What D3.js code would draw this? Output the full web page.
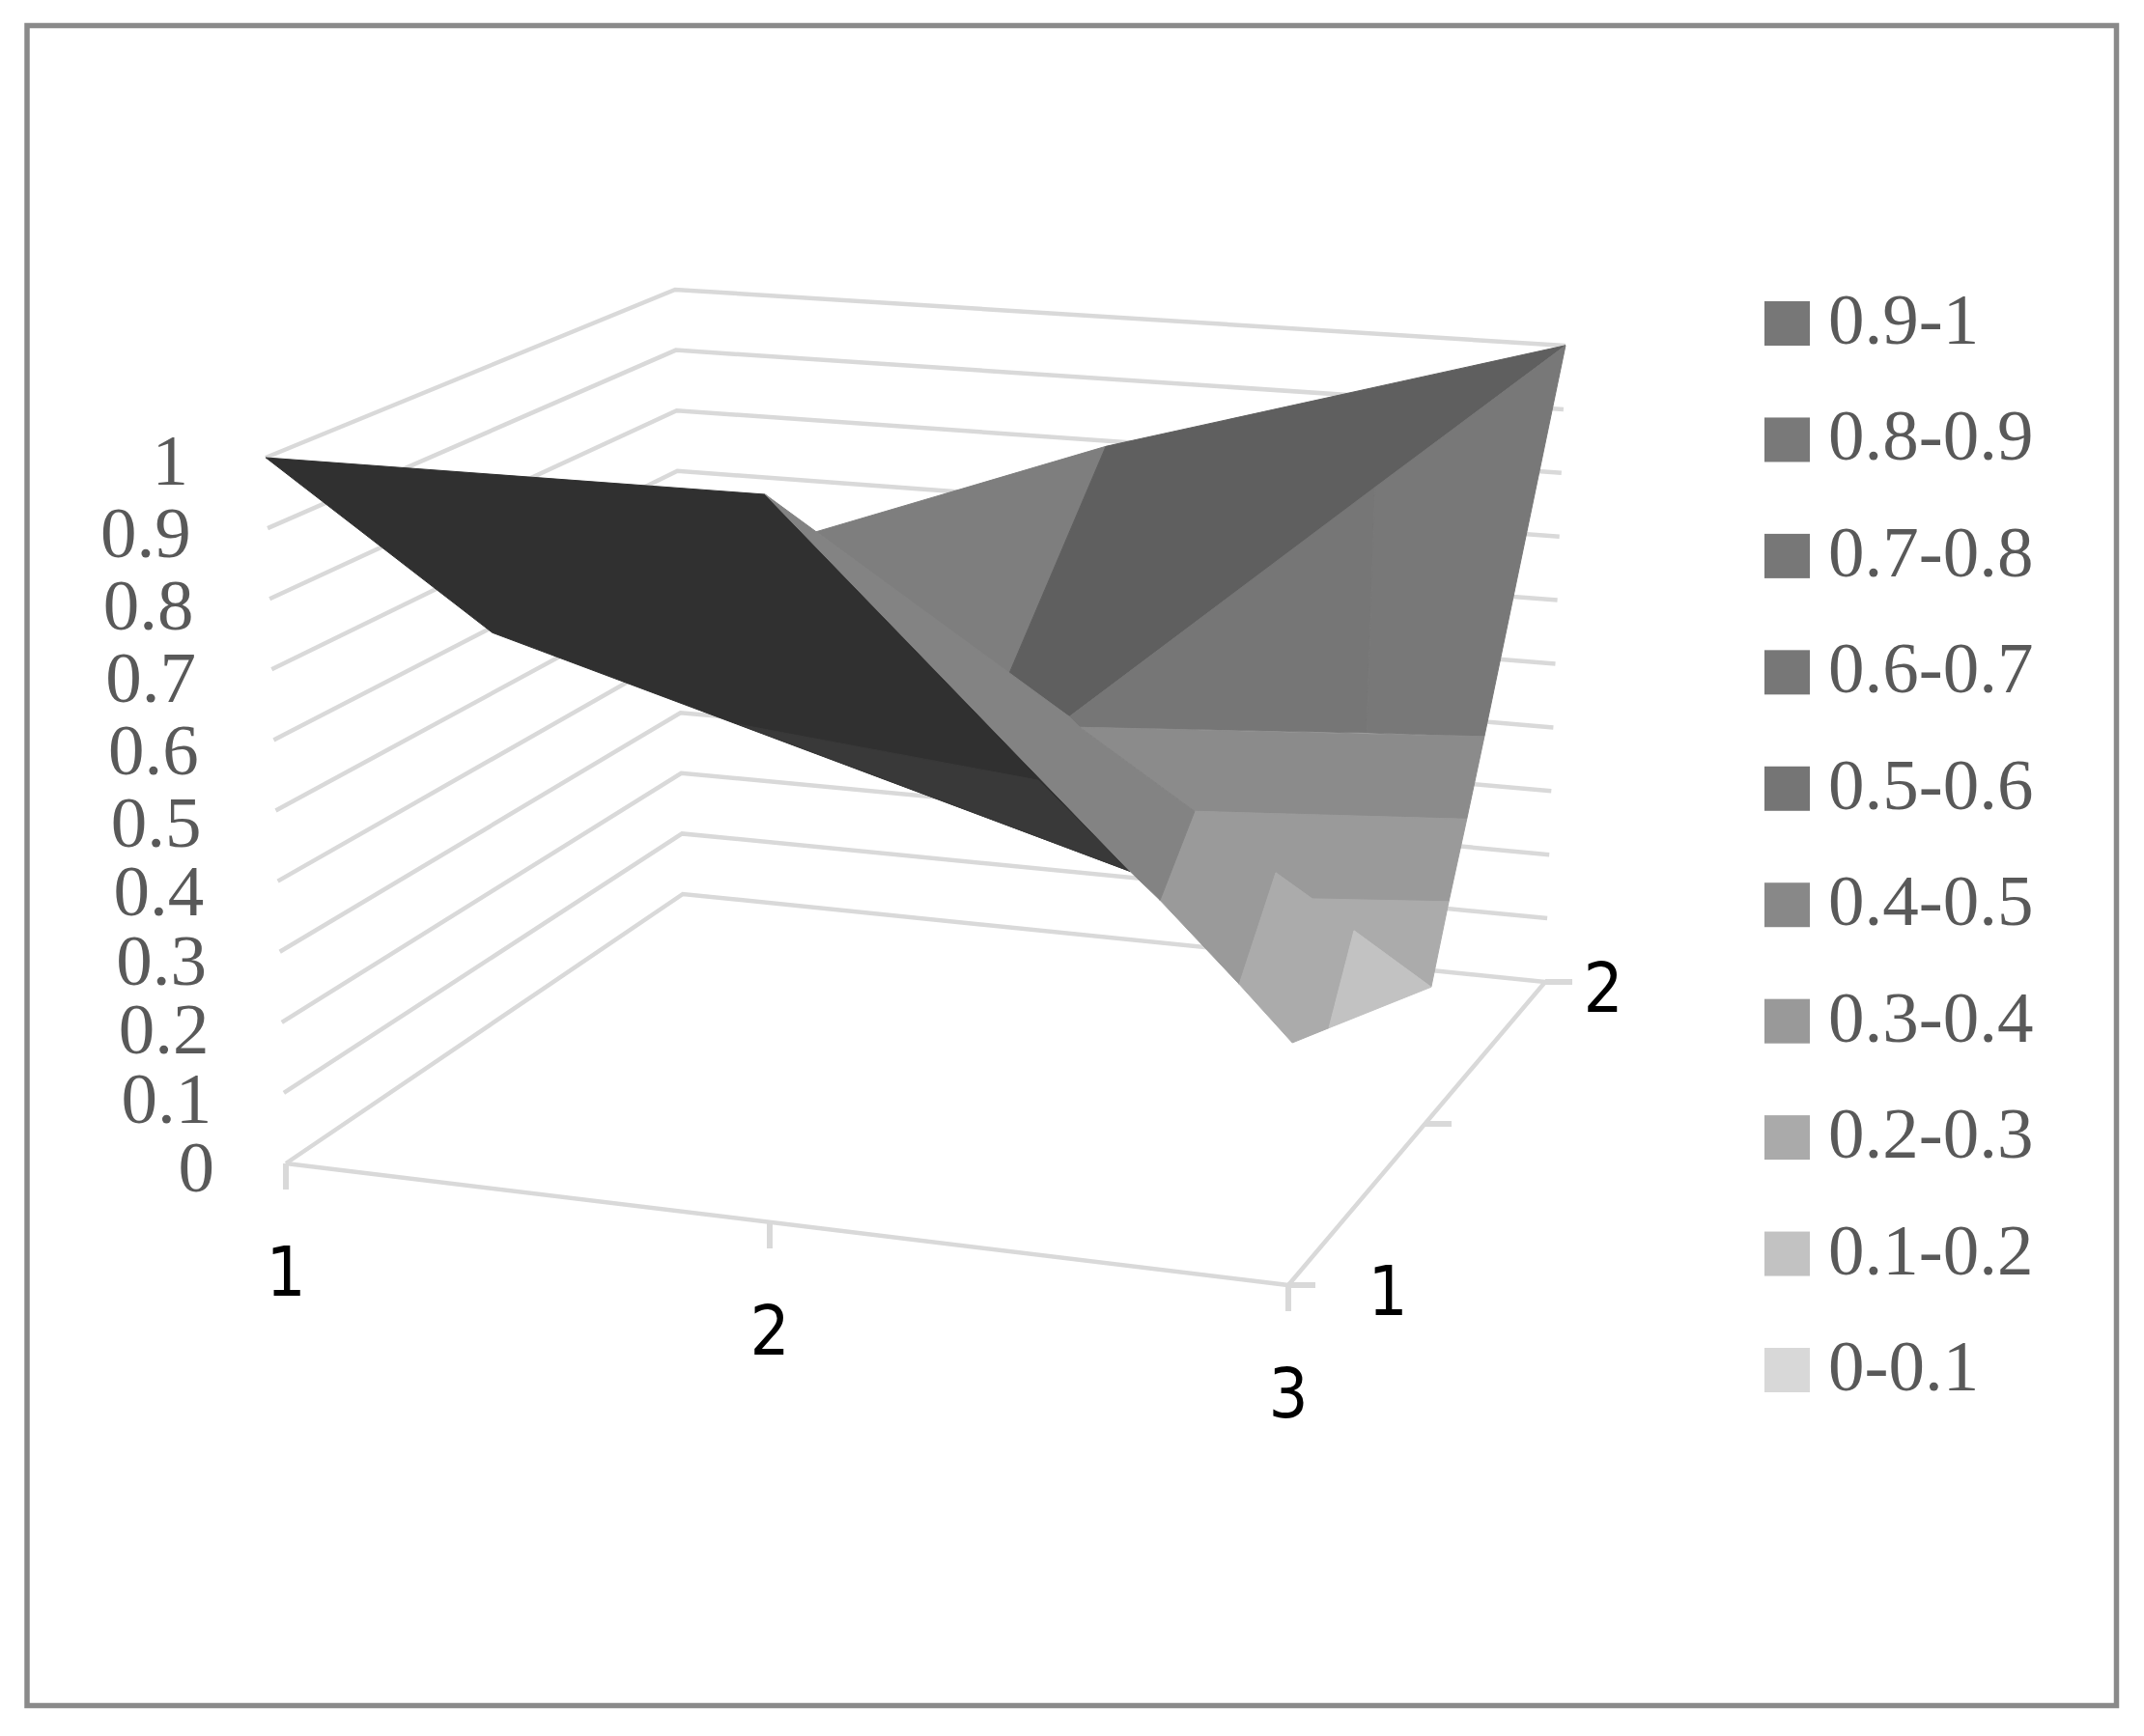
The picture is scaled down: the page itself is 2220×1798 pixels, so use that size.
<!DOCTYPE html>
<html>
<head>
<meta charset="utf-8">
<script src="https://d3js.org/d3.v7.min.js"></script>
<style>
    html, body { margin: 0; padding: 0; background: #fff; }
    svg { display: block; }
</style>
</head>
<body>
<div id="chart"></div>
<script>
// axis labels
var valueTicks = [0, 0.1, 0.2, 0.3, 0.4, 0.5, 0.6, 0.7, 0.8, 0.9, 1];
var categories = [1, 2, 3];
var seriesTicks = [1, 1.5, 2];
var seriesLabels = [1, 2];
var legendLabels = ["0.9-1", "0.8-0.9", "0.7-0.8", "0.6-0.7", "0.5-0.6",
                    "0.4-0.5", "0.3-0.4", "0.2-0.3", "0.1-0.2", "0-0.1"];
var legendColors = ["#777777", "#797979", "#777777", "#777777", "#757575",
                    "#888888", "#999999", "#aaaaaa", "#c2c2c2", "#d8d8d8"];

// surface facets as [category, value] pairs
var darkFace = [[0.960, 1.000], [1.956, 0.948], [2.684, 0.414], [1.412, 0.752]];
var darkFold = [[1.904, 0.622], [2.501, 0.543], [2.684, 0.414]];
var ridgeStrip = [[1.956, 0.948], [2.058, 0.895], [2.563, 0.633], [2.584, 0.618],
                  [2.813, 0.499], [2.744, 0.373], [2.684, 0.414]];
var backLeft = [[2.058, 0.895], [2.636, 1.016], [2.443, 0.694]];
var backTop = [[2.636, 1.016], [3.553, 1.159], [2.563, 0.633], [2.443, 0.694]];
var sideLeft = [[3.173, 0.958], [3.156, 0.610], [2.584, 0.618], [2.563, 0.633]];
var sideRight = [[3.553, 1.159], [3.391, 0.605], [3.156, 0.610], [3.173, 0.958]];
var band45 = [[2.584, 0.618], [3.391, 0.605], [3.356, 0.488], [2.813, 0.499]];
var band34 = [[2.813, 0.499], [3.356, 0.488], [3.320, 0.371], [3.048, 0.375],
              [2.975, 0.412], [2.902, 0.254], [2.744, 0.373]];
var band23 = [[2.975, 0.412], [3.048, 0.375], [3.320, 0.371], [3.285, 0.250],
              [3.131, 0.330], [3.081, 0.192], [3.008, 0.171], [2.902, 0.254]];
var band12 = [[3.131, 0.330], [3.285, 0.250], [3.081, 0.192]];

var facets = [darkFace, darkFold, backLeft, backTop, sideLeft, sideRight,
              band45, band34, band23, band12, ridgeStrip];
var facetShades = ["#303030", "#393939", "#7e7e7e", "#5f5f5f", "#767676", "#787878",
                   "#8b8b8b", "#9a9a9a", "#ababab", "#c2c2c2", "#838383"];

var width = 2220, height = 1798;
var grid = "#d9d9d9";

var svg = d3.select("#chart").append("svg")
    .attr("width", width)
    .attr("height", height);

svg.append("rect")
    .attr("x", 28)
    .attr("y", 26.5)
    .attr("width", 2163.5)
    .attr("height", 1740)
    .attr("fill", "#fff")
    .attr("stroke", "#8a8a8a")
    .attr("stroke-width", 5.5);

// the three wall edges, each one its own value axis
var frontX = d3.scaleLinear().domain([0, 1]).range([296, 275]);
var frontY = d3.scaleLinear().domain([0, 1]).range([1205, 474]);
var cornerX = d3.scaleLinear().domain([0, 1]).range([707, 699]);
var cornerY = d3.scaleLinear().domain([0, 1]).range([926, 300]);
var rightX = d3.scaleLinear().domain([0, 1]).range([1600, 1621]);
var rightY = d3.scaleLinear().domain([0, 1]).range([1017, 358]);

// floor edges
var floorX = d3.scaleLinear().domain([1, 2, 3]).range([296, 797, 1334]);
var floorY = d3.scaleLinear().domain([1, 2, 3]).range([1205, 1266, 1331]);
var depthX = d3.scaleLinear().domain([1, 1.5, 2]).range([1334, 1475, 1600]);
var depthY = d3.scaleLinear().domain([1, 1.5, 2]).range([1331, 1164, 1017]);

// the surface is placed with these two
var x = d3.scaleLinear().domain([1, 3]).range([296, 1334]);
var y = d3.scaleLinear().domain([0, 1]).range([1205, 474]);

// gridlines on both walls
svg.append("g")
    .selectAll("polyline")
    .data(valueTicks)
    .enter().append("polyline")
    .attr("points", function(d) {
        return [[frontX(d), frontY(d)], [cornerX(d), cornerY(d)], [rightX(d), rightY(d)]].join(" ");
    })
    .attr("fill", "none")
    .attr("stroke", grid)
    .attr("stroke-width", 4.5);

// floor edges and ticks
var floor = svg.append("g")
    .attr("stroke", grid)
    .attr("fill", "none");

floor.append("polyline")
    .attr("points", [[floorX(1), floorY(1)], [floorX(3), floorY(3)], [depthX(2), depthY(2)]].join(" "))
    .attr("stroke-width", 4.5);

floor.selectAll("line.cat")
    .data(categories)
    .enter().append("line")
    .attr("class", "cat")
    .attr("x1", function(d) { return floorX(d); })
    .attr("y1", function(d) { return floorY(d); })
    .attr("x2", function(d) { return floorX(d); })
    .attr("y2", function(d) { return floorY(d) + 27; })
    .attr("stroke-width", 6);

floor.selectAll("line.depth")
    .data(seriesTicks)
    .enter().append("line")
    .attr("class", "depth")
    .attr("x1", function(d) { return depthX(d); })
    .attr("y1", function(d) { return depthY(d); })
    .attr("x2", function(d) { return depthX(d) + 28; })
    .attr("y2", function(d) { return depthY(d); })
    .attr("stroke-width", 6);

// surface
var line = d3.line()
    .x(function(d) { return x(d[0]); })
    .y(function(d) { return y(d[1]); })
    .curve(d3.curveLinearClosed);

svg.append("g")
    .selectAll("path")
    .data(facets)
    .enter().append("path")
    .attr("d", line)
    .attr("fill", function(d, i) { return facetShades[i]; })
    .attr("stroke", function(d, i) { return facetShades[i]; })
    .attr("stroke-width", 1);

// value axis labels
var serif = "'Liberation Serif', serif";
var sans = "'DejaVu Sans Condensed', 'DejaVu Sans', sans-serif";
var labelX = d3.scaleLinear().domain([0, 1]).range([222, 195]);
var labelY = d3.scaleLinear().domain([0, 0.5, 1]).range([1234, 877, 502]);

svg.append("g")
    .attr("font-family", serif)
    .attr("font-size", 75)
    .attr("fill", "#595959")
    .attr("text-anchor", "end")
    .selectAll("text")
    .data(valueTicks)
    .enter().append("text")
    .attr("x", function(d) { return labelX(d); })
    .attr("y", function(d) { return labelY(d); })
    .text(function(d) { return d; });

// category and series labels
var axisText = svg.append("g")
    .attr("font-family", sans)
    .style("font-stretch", "condensed")
    .attr("font-size", 72)
    .attr("fill", "#000")
    .attr("text-anchor", "middle");

axisText.selectAll("text.cat")
    .data(categories)
    .enter().append("text")
    .attr("class", "cat")
    .attr("x", function(d) { return floorX(d); })
    .attr("y", function(d) { return floorY(d) + 137; })
    .text(function(d) { return d; });

var seriesLabelX = d3.scaleLinear().domain([1, 2]).range([1437, 1660]);

axisText.selectAll("text.series")
    .data(seriesLabels)
    .enter().append("text")
    .attr("class", "series")
    .attr("x", function(d) { return seriesLabelX(d); })
    .attr("y", function(d) { return depthY(d) + 31; })
    .text(function(d) { return d; });

// legend
var legendY = d3.scalePoint().domain(legendLabels).range([312, 1396]);

var legend = svg.append("g")
    .selectAll("g")
    .data(legendLabels)
    .enter().append("g")
    .attr("transform", function(d) { return "translate(1827," + legendY(d) + ")"; });

legend.append("rect")
    .attr("width", 47)
    .attr("height", 46)
    .attr("fill", function(d, i) { return legendColors[i]; });

legend.append("text")
    .attr("x", 66)
    .attr("y", 44)
    .attr("font-family", serif)
    .attr("font-size", 75)
    .attr("fill", "#595959")
    .text(function(d) { return d; });
</script>
</body>
</html>
